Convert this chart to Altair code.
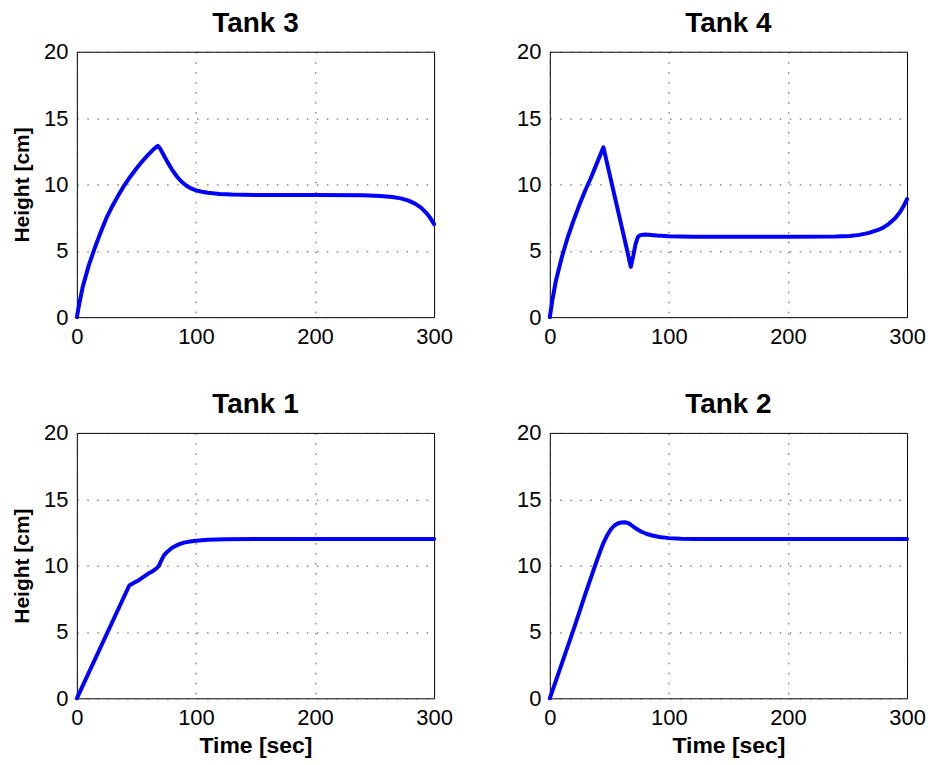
import altair as alt
import pandas as pd

# ---- data ----
tank3_time = [0, 2, 5, 10, 15, 20, 25, 30, 35, 40, 45, 50, 55, 60, 65, 68, 70, 73, 76, 80, 84, 88, 92, 96,
              100, 105, 110, 120, 130, 150, 200, 240, 255, 265, 272, 278, 284, 289, 294, 297, 300]
tank3_height = [0, 1.0, 2.3, 3.9, 5.2, 6.4, 7.5, 8.4, 9.2, 9.95, 10.6, 11.2, 11.75, 12.25, 12.7, 12.9, 12.7,
                12.2, 11.7, 11.1, 10.6, 10.2, 9.9, 9.7, 9.55, 9.45, 9.37, 9.28, 9.24, 9.2, 9.2, 9.18, 9.12,
                9.05, 8.95, 8.8, 8.55, 8.25, 7.8, 7.45, 7.0]

tank4_time = [0, 2, 5, 10, 15, 20, 25, 30, 35, 40, 45, 50, 55, 60, 65, 68, 70, 72, 74, 76, 80, 90, 100,
              120, 150, 200, 240, 252, 260, 268, 275, 280, 285, 290, 294, 297, 300]
tank4_height = [0, 1.2, 2.7, 4.5, 6.0, 7.3, 8.5, 9.6, 10.6, 11.7, 12.8, 10.85, 8.9, 6.95, 5.0, 3.8, 4.6,
                5.5, 6.05, 6.18, 6.22, 6.15, 6.1, 6.06, 6.05, 6.05, 6.07, 6.12, 6.2, 6.35, 6.55, 6.75,
                7.05, 7.45, 7.9, 8.35, 8.9]

tank1_time = [0, 44, 48, 52, 56, 60, 64, 67, 69, 71, 73, 76, 80, 85, 90, 95, 100, 110, 125, 150, 300]
tank1_height = [0, 8.5, 8.7, 8.9, 9.15, 9.4, 9.6, 9.8, 10.0, 10.4, 10.75, 11.05, 11.35, 11.58, 11.73,
                11.82, 11.88, 11.95, 11.99, 12.0, 12.0]

tank2_time = [0, 10, 20, 30, 38, 42, 45, 48, 51, 54, 57, 60, 63, 66, 68, 71, 74, 77, 81, 86, 92, 100,
              110, 125, 300]
tank2_height = [0, 2.6, 5.2, 7.9, 10.0, 11.0, 11.7, 12.25, 12.7, 13.0, 13.17, 13.25, 13.27, 13.2, 13.08,
                12.88, 12.7, 12.55, 12.4, 12.27, 12.15, 12.07, 12.02, 12.0, 12.0]

x_ticks = [0, 100, 200, 300]
y_ticks = [0, 5, 10, 15, 20]

FONT = "Liberation Sans"


def panel(time, height, title, show_y_title, show_x_title):
    df = pd.DataFrame({"t": time, "h": height})
    x_axis = alt.Axis(values=x_ticks, labelFlush=False, title="Time [sec]" if show_x_title else None)
    y_axis = alt.Axis(values=y_ticks, labelFlush=False, title="Height [cm]" if show_y_title else None)
    return (
        alt.Chart(df)
        .mark_line(color="#0000FF", strokeWidth=4, strokeCap="round", strokeJoin="round")
        .encode(
            x=alt.X("t:Q", scale=alt.Scale(domain=[0, 300], nice=False, zero=False), axis=x_axis),
            y=alt.Y("h:Q", scale=alt.Scale(domain=[0, 20], nice=False, zero=False), axis=y_axis),
            order=alt.Order("t:Q"),
        )
        .properties(
            width=358,
            height=266,
            title=alt.TitleParams(title, frame="group", baseline="bottom", offset=14, dy=39),
        )
    )


p3 = panel(tank3_time, tank3_height, "Tank 3", True, False)
p4 = panel(tank4_time, tank4_height, "Tank 4", False, False)
p1 = panel(tank1_time, tank1_height, "Tank 1", True, True)
p2 = panel(tank2_time, tank2_height, "Tank 2", False, True)

chart = (
    alt.concat(p3, p4, p1, p2, columns=2, spacing=116, bounds="flush")
    .properties(padding={"top": 0, "left": 3, "right": 0, "bottom": 0})
    .configure_view(stroke="black", strokeWidth=1)
    .configure_axis(
        grid=True,
        gridColor="#222222",
        gridOpacity=0.8,
        gridDash=[1.5, 8.5],
        gridWidth=1,
        domain=False,
        ticks=False,
        tickSize=0,
        labelFont=FONT,
        labelFontSize=22,
        labelColor="black",
        labelPadding=9,
        titleFont=FONT,
        titleFontSize=21,
        titleFontWeight="bold",
        titleColor="black",
        titlePadding=11,
    )
    .configure_axisX(titleFontSize=23, titlePadding=6)
    .configure_title(font=FONT, fontSize=28, fontWeight="bold", color="black", anchor="middle")
)

chart.save("out.html", embed_options={"renderer": "svg", "actions": False})
